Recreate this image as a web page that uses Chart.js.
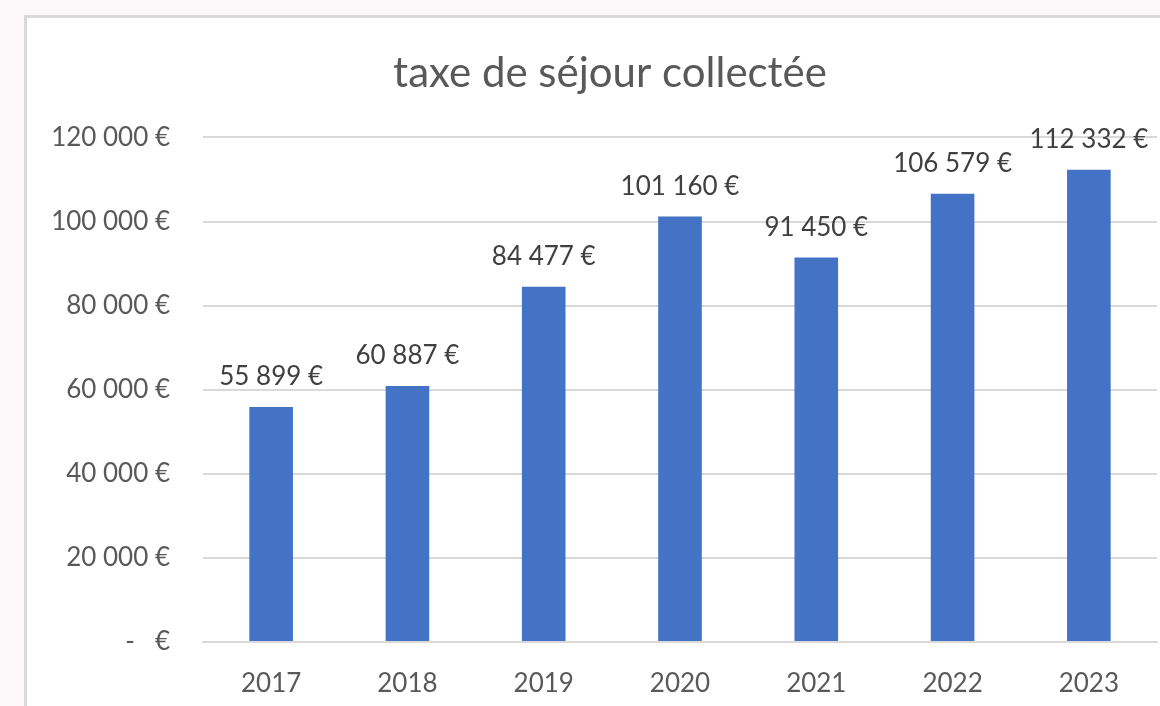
<!DOCTYPE html>
<html>
<head>
<meta charset="utf-8">
<script src="https://cdn.jsdelivr.net/npm/chart.js@4/dist/chart.umd.min.js"></script>
<style>
  html, body { margin: 0; padding: 0; background: #fcf8fa; }
  #wrap { position: relative; width: 1160px; height: 706px; overflow: hidden; }
  #frame { position: absolute; left: 24px; top: 15px; width: 1200px; height: 760px;
           background: #fff; border: 3px solid #d9d9d9; box-sizing: border-box; }
  #c { position: absolute; left: 0; top: 0; }
</style>
</head>
<body>
<div id="wrap">
  <div id="frame"></div>
  <canvas id="c" width="1220" height="706"></canvas>
</div>
<script>
const years = ['2017', '2018', '2019', '2020', '2021', '2022', '2023'];
const taxe = [55899, 60887, 84477, 101160, 91450, 106579, 112332];
const yTicks = [0, 20000, 40000, 60000, 80000, 100000, 120000];

function euro(v) {
    if (v === 0) return '-   €';
    return v.toLocaleString('fr-FR').replace(/[\u202f\u00a0]/g, ' ') + ' €';
}

// labels above bars
const barLabels = {
    id: 'barLabels',
    afterDatasetsDraw(chart) {
        const ctx = chart.ctx;
        const meta = chart.getDatasetMeta(0);
        ctx.save();
        ctx.font = '26px Lato';
        ctx.fillStyle = '#404040';
        ctx.textAlign = 'center';
        ctx.textBaseline = 'middle';
        meta.data.forEach((bar, i) => {
            ctx.fillText(euro(taxe[i]), bar.x, bar.y - 30);
        });
        ctx.restore();
    }
};

const ctx = document.getElementById('c').getContext('2d');
const myChart = new Chart(ctx, {
    type: 'bar',
    data: {
        labels: years,
        datasets: [{
            label: 'taxe de séjour collectée',
            data: taxe,
            backgroundColor: '#4472c4',
            categoryPercentage: 1,
            barPercentage: 0.32,
        }],
    },
    options: {
        responsive: false,
        animation: false,
        layout: { padding: 0 },
        plugins: {
            legend: { display: false },
            tooltip: { enabled: false },
            title: {
                display: true,
                text: 'taxe de séjour collectée',
                color: '#595959',
                font: { family: 'Lato', size: 42, weight: 'normal' },
                padding: { top: 48, bottom: 39 },
            },
        },
        scales: {
            x: {
                grid: { display: false },
                border: { display: true, color: '#d9d9d9', width: 2 },
                ticks: {
                    color: '#595959',
                    font: { family: 'Lato', size: 26 },
                    padding: 18,
                },
                afterFit(axis) { axis.height = 64; },
            },
            y: {
                min: 0,
                max: 120000,
                afterBuildTicks(axis) { axis.ticks = yTicks.map(v => ({ value: v })); },
                grid: { color: '#d9d9d9', lineWidth: 2, drawTicks: false },
                border: { display: false },
                ticks: {
                    color: '#595959',
                    font: { family: 'Lato', size: 26 },
                    padding: 33,
                    callback: v => euro(v),
                },
                afterFit(axis) { axis.width = 203; },
            },
            // empty right axis, only reserves space so the title sits where it does in the picture
            yRight: {
                type: 'linear',
                position: 'right',
                min: 0,
                max: 120000,
                grid: { display: false },
                border: { display: false },
                ticks: { display: false },
                afterFit(axis) { axis.width = 63; },
            },
        },
    },
    plugins: [barLabels],
});
</script>
</body>
</html>
